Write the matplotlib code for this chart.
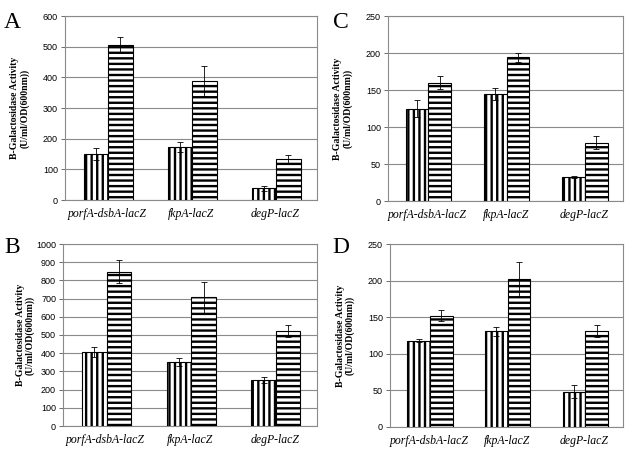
import matplotlib.pyplot as plt
import numpy as np

plt.rcParams['hatch.linewidth'] = 1.7

categories = ["porfA-dsbA-lacZ", "fkpA-lacZ", "degP-lacZ"]

# panel A
a_vert = [150, 172, 38]
a_vert_err = [18, 17, 8]
a_horz = [505, 388, 135]
a_horz_err = [27, 50, 13]

# panel B
b_vert = [407, 353, 251]
b_vert_err = [28, 23, 16]
b_horz = [848, 707, 522]
b_horz_err = [62, 86, 34]

# panel C
c_vert = [125, 145, 32]
c_vert_err = [12, 8, 1.5]
c_horz = [160, 194, 79]
c_horz_err = [9, 6, 9]

# panel D
d_vert = [118, 131, 48]
d_vert_err = [2.5, 6, 9]
d_horz = [152, 202, 131]
d_horz_err = [7.5, 24, 8]

W, H = 641, 453


# axes rectangle from pixel box
def pixbox(left, top, right, bottom):
    return [left / W, 1 - bottom / H, (right - left) / W, (bottom - top) / H]


def draw_panel(fig, box, letter, letter_xy, vert, vert_err, horz, horz_err,
               ymax, ystep, label_x):
    ax = fig.add_axes(pixbox(*box))
    x = np.arange(len(categories))
    w = 0.29
    ax.bar(x - w / 2 + 0.015, vert, w, color="white", edgecolor="black",
           linewidth=0.8, hatch="|||", zorder=3)
    ax.bar(x + w / 2 + 0.015, horz, w, color="white", edgecolor="black",
           linewidth=0.8, hatch="---", zorder=3)
    ax.errorbar(x - w / 2 + 0.015, vert, yerr=vert_err, fmt="none",
                ecolor="black", elinewidth=0.6, capsize=2.5, capthick=0.6, zorder=4)
    ax.errorbar(x + w / 2 + 0.015, horz, yerr=horz_err, fmt="none",
                ecolor="black", elinewidth=0.6, capsize=2.5, capthick=0.6, zorder=4)

    ax.set_xlim(-0.5, len(categories) - 0.5)
    ax.set_ylim(0, ymax)
    ax.set_yticks(np.arange(0, ymax + 1, ystep))
    ax.yaxis.grid(True, color="#8a8a8a", linewidth=0.8, zorder=0)
    ax.set_axisbelow(True)
    for s in ax.spines.values():
        s.set_color("#8a8a8a")
        s.set_linewidth(0.8)
    ax.tick_params(axis="y", labelsize=6.5, length=3, width=0.6, color="#555555", pad=2)
    for t in ax.get_yticklabels():
        t.set_fontfamily("Liberation Sans")
    ax.set_xticks(x)
    ax.set_xticklabels(categories, fontsize=8.5, fontfamily="Liberation Serif",
                       style="italic")
    ax.tick_params(axis="x", length=0, pad=6)

    ax.set_ylabel("B-Galactosidase Activity\n(U/ml/OD(600nm))", fontsize=7,
                  fontfamily="Liberation Serif", fontweight="bold", linespacing=1.1)
    ax.yaxis.set_label_coords(label_x, 0.5)

    fig.text(letter_xy[0] / W, 1 - letter_xy[1] / H, letter, fontsize=17,
             fontfamily="Liberation Serif", va="top", ha="left")
    return ax


fig = plt.figure(figsize=(6.41, 4.53), dpi=100)

draw_panel(fig, (65, 16, 317, 200), "A", (4, 12), a_vert, a_vert_err,
           a_horz, a_horz_err, 600, 100, -0.14)
draw_panel(fig, (388, 16, 623, 201), "C", (333, 12), c_vert, c_vert_err,
           c_horz, c_horz_err, 250, 50, -0.15)
draw_panel(fig, (63, 244, 317, 426), "B", (4, 237), b_vert, b_vert_err,
           b_horz, b_horz_err, 1000, 100, -0.11)
draw_panel(fig, (390, 244, 623, 427), "D", (332, 237), d_vert, d_vert_err,
           d_horz, d_horz_err, 250, 50, -0.15)

fig.savefig("out.png", dpi=100)
